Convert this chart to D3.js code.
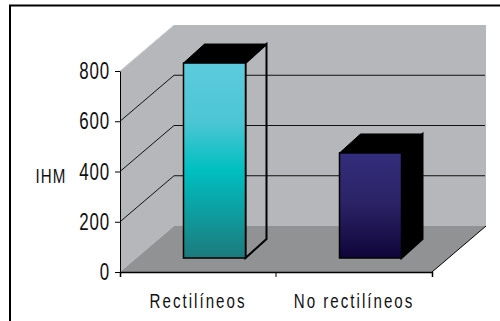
<!DOCTYPE html>
<html>
    <head>
        <meta charset='utf-8'>
        <title>IHM</title>
        <style>
            html, body { margin: 0; padding: 0; background: #fff; overflow: hidden; }
            svg { display: block; }
            text { font-family: 'Liberation Sans', sans-serif; fill: #111; }
        </style>
        <script src='https://cdnjs.cloudflare.com/ajax/libs/d3/7.8.5/d3.min.js'></script>
    </head>
    <body>
        <script>
            const categories = ['Rectilíneos', 'No rectilíneos'];
            const values = [776, 418];
            const yTicks = [0, 200, 400, 600, 800];
            const yLabel = 'IHM';

            const w = 500;
            const h = 321;
            // 3d offsets: back wall and bar depth
            const wallDx = 54, wallDy = -46;
            const barShiftX = 16.5, barShiftY = -14;
            const barDx = 21, barDy = -19;
            // no narrow font here, so squeeze the text sideways
            const narrow = 0.72;

            const y = d3.scaleLinear().domain([0, 800]).range([272, 71]);
            const x = d3.scaleBand().domain(categories).range([120, 432]);
            const barW = 62;

            const svg = d3.select('body').append('svg').attr('width', w).attr('height', h);

            const defs = svg.append('defs');
            const addGrad = (id, stops) => {
                const g = defs.append('linearGradient').attr('id', id)
                    .attr('x1', 0).attr('y1', 0).attr('x2', 0).attr('y2', 1);
                stops.forEach((s) => g.append('stop').attr('offset', s[0]).attr('stop-color', s[1]));
            };
            addGrad('barA', [[0, '#5ccbdd'], [0.3, '#4cc6d4'], [0.55, '#00bfc0'], [1, '#1c7a7c']]);
            addGrad('barB', [[0, '#322d7b'], [0.45, '#2c2468'], [1, '#10053a']]);

            // outer frame
            svg.append('path')
                .attr('d', `M10,${h}V5.5H${w}`)
                .attr('fill', 'none')
                .attr('stroke', '#000')
                .attr('stroke-width', 2);

            const x0 = x.range()[0], x1 = x.range()[1];
            const y0 = y(0), yTop = y(800);

            // walls and floor
            svg.append('path')
                .attr('d', `M${x0},${y0}V${yTop}l${wallDx},${wallDy}H${x1 + wallDx}V${y0 + wallDy}H${x0 + wallDx}Z`)
                .attr('fill', '#b6b7ba');
            svg.append('path')
                .attr('d', `M${x0},${y0}l${wallDx},${wallDy}H${x1 + wallDx}L${x1},${y0}Z`)
                .attr('fill', '#909294');
            svg.append('path')
                .attr('d', `M${x0},${yTop}l${wallDx},${wallDy}`)
                .attr('fill', 'none').attr('stroke', '#d4d5d7').attr('stroke-width', 1);
            svg.append('path')
                .attr('d', `M${x1},${y0}l${wallDx},${wallDy}`)
                .attr('fill', 'none').attr('stroke', '#000').attr('stroke-width', 1);

            // gridlines on side and back wall
            svg.append('g').selectAll('path')
                .data(yTicks.filter((d) => d > 0 && d < 800))
                .enter()
                .append('path')
                .attr('d', (d) => `M${x0},${y(d)}l${wallDx},${wallDy}H${x1 + wallDx - 1}`)
                .attr('fill', 'none')
                .attr('stroke', '#111')
                .attr('stroke-width', 1);

            // bars
            const bars = svg.append('g').selectAll('g')
                .data(categories.map((c, i) => ({c: c, v: values[i], i: i})))
                .enter()
                .append('g');

            const barLeft = (d) => x(d.c) + x.bandwidth() / 2 - barW / 2 + barShiftX;
            const barBase = y0 + barShiftY;
            const barTop = (d) => y(d.v) + barShiftY;

            bars.append('path')
                .attr('d', (d) => `M${barLeft(d) + barW},${barTop(d)}l${barDx},${barDy}V${barBase + barDy}l${-barDx},${-barDy}Z`)
                .attr('fill', (d) => d.i === 0 ? 'none' : '#000')
                .attr('stroke', '#000')
                .attr('stroke-width', 2);
            bars.append('path')
                .attr('d', (d) => `M${barLeft(d)},${barTop(d)}l${barDx},${barDy}h${barW}l${-barDx},${-barDy}Z`)
                .attr('fill', '#000')
                .attr('stroke', '#000');
            bars.append('rect')
                .attr('x', barLeft)
                .attr('y', barTop)
                .attr('width', barW)
                .attr('height', (d) => barBase - barTop(d))
                .attr('fill', (d) => d.i === 0 ? 'url(#barA)' : 'url(#barB)')
                .attr('stroke', '#000')
                .attr('stroke-width', 1.5);

            // axes
            const yAxis = svg.append('g')
                .attr('transform', `translate(${x0},0)`)
                .call(d3.axisLeft(y).tickValues(yTicks).tickSize(5).tickSizeOuter(0));
            yAxis.selectAll('path,line').attr('stroke', '#000');
            yAxis.selectAll('text')
                .attr('x', 0)
                .attr('transform', `translate(-10,0) scale(${narrow},1)`)
                .attr('font-size', 23.5)
                .attr('font-family', null)
                .style('letter-spacing', '1.2px');

            const xAxis = svg.append('g')
                .attr('transform', `translate(0,${y0})`)
                .call(d3.axisBottom(x).tickSize(0).tickPadding(21).tickSizeOuter(5));
            xAxis.selectAll('path').attr('stroke', '#000').attr('stroke-width', 1.5);
            xAxis.selectAll('text')
                .attr('transform', `scale(${narrow},1)`)
                .attr('font-size', 21)
                .attr('font-family', null)
                .style('letter-spacing', '2.8px');
            // tick between the two categories
            xAxis.append('line')
                .attr('x1', x0 + x.step()).attr('x2', x0 + x.step())
                .attr('y1', 0).attr('y2', 5)
                .attr('stroke', '#000');

            svg.append('text')
                .attr('transform', `translate(51,183) scale(${narrow},1)`)
                .attr('text-anchor', 'middle')
                .attr('font-size', 21)
                .style('letter-spacing', '1.5px')
                .text(yLabel);
        </script>
    </body>
</html>
